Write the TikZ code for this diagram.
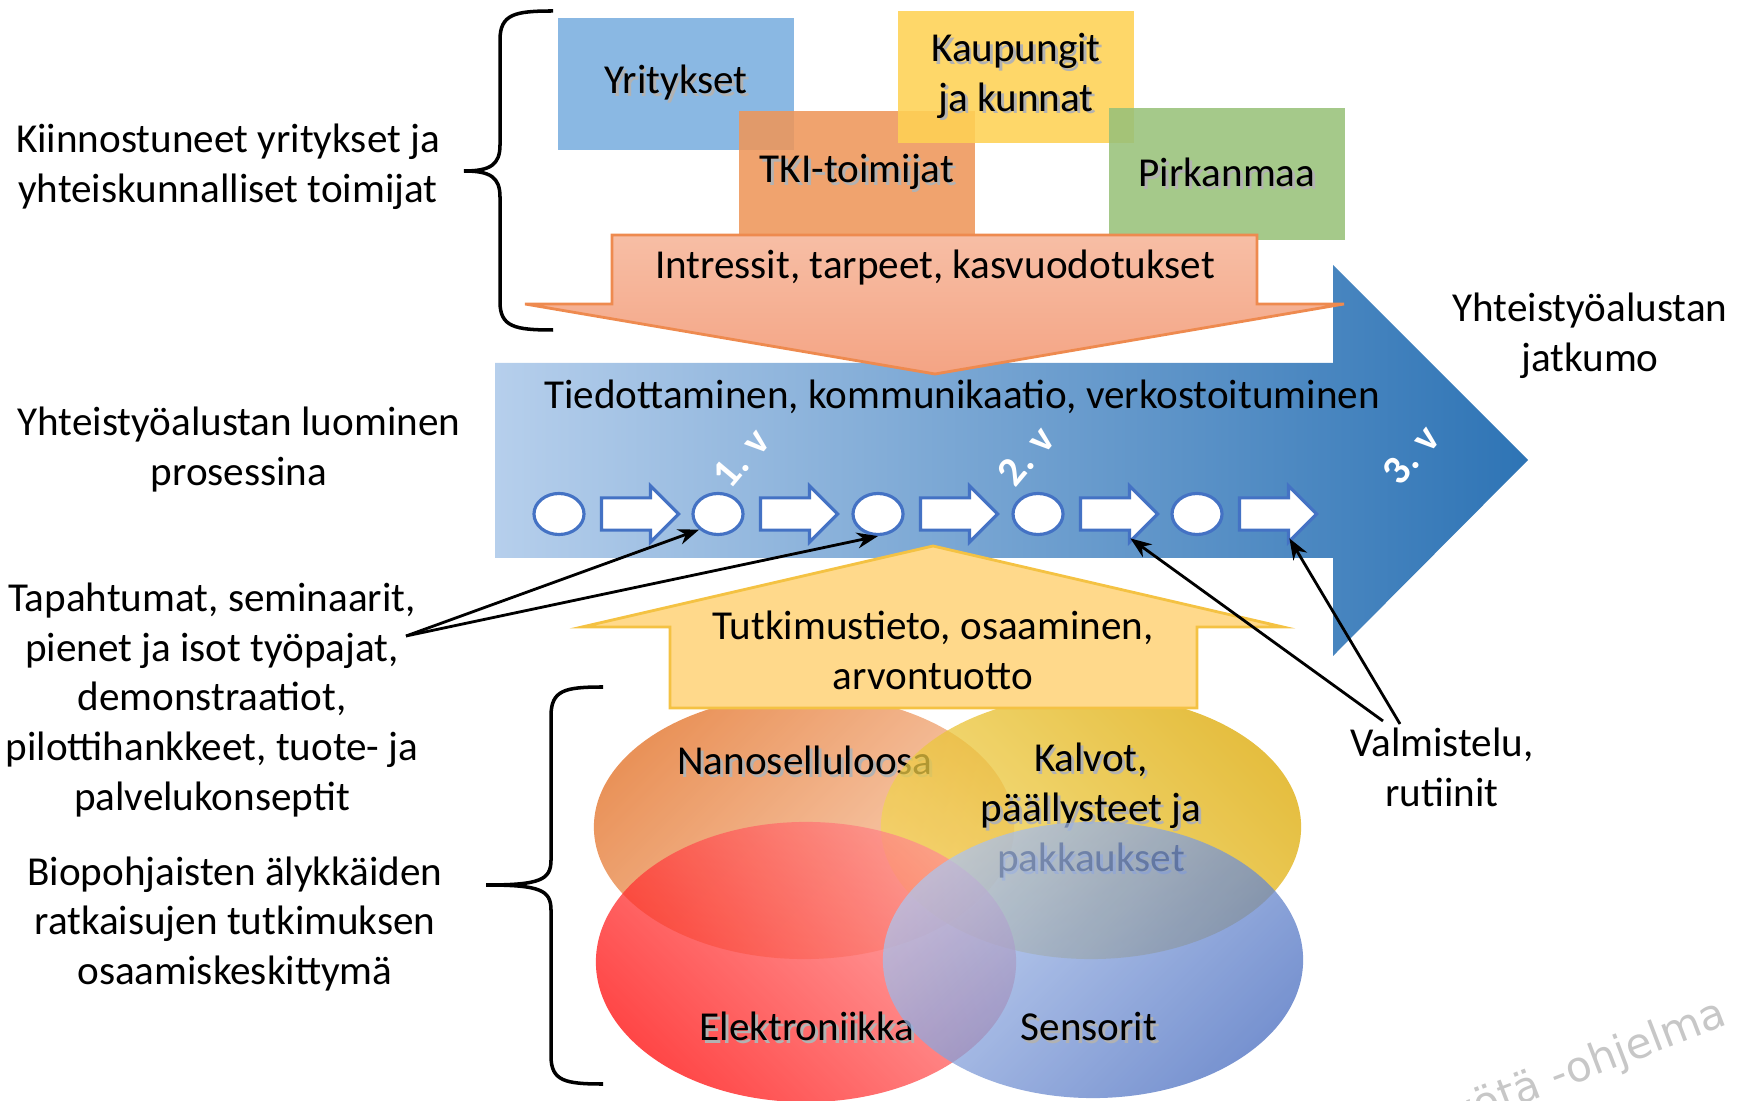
\documentclass[tikz,border=0pt]{standalone}
\usepackage{fontspec}
\setmainfont{Carlito}
\newfontfamily\wmfont{DejaVu Sans}
\usetikzlibrary{shapes.geometric,shapes.arrows,arrows.meta,positioning}

\definecolor{yritblue}{HTML}{7AAEDF}
\definecolor{tkiorange}{HTML}{EE965A}
\definecolor{kaupyellow}{HTML}{FED154}
\definecolor{pirkgreen}{HTML}{99C17A}
\definecolor{needtop}{HTML}{F7BEA5}
\definecolor{needbot}{HTML}{F4A484}
\definecolor{needline}{HTML}{EE8A4F}
\definecolor{resfill}{HTML}{FFD98B}
\definecolor{resline}{HTML}{F4C243}
\definecolor{flowlight}{HTML}{B6CFEC}
\definecolor{flowdark}{HTML}{2E74B5}
\definecolor{stepblue}{HTML}{4472C4}
\definecolor{nanodark}{HTML}{E26E22}
\definecolor{nanolight}{HTML}{F8C4A2}
\definecolor{kalvdark}{HTML}{DCA800}
\definecolor{kalvlight}{HTML}{F4D85E}
\definecolor{eledark}{HTML}{FF0A0A}
\definecolor{elelight}{HTML}{FF9090}
\definecolor{sensdark}{HTML}{4A6EC0}
\definecolor{senslight}{HTML}{AFC4EC}

% text with a soft drop shadow
\newcommand{\shtext}[1]{\leavevmode\rlap{\hspace{0.8pt}\raisebox{-0.8pt}{\textcolor{black!30}{#1}}}#1}

\tikzset{
  lbl/.style={align=center, inner sep=1pt, font=\fontsize{11.7}{14.2}\selectfont},
  actor/.style={lbl, minimum width=2.35cm, minimum height=1.32cm, fill opacity=0.88, text opacity=1},
  venn/.style={ellipse, minimum width=4.2cm, minimum height=2.64cm, fill opacity=0.75},
  stepcirc/.style={ellipse, draw=stepblue, fill=white, line width=0.9pt, minimum width=0.5cm, minimum height=0.41cm, inner sep=0pt},
  steparrow/.style={single arrow, draw=stepblue, fill=white, line width=0.9pt, minimum height=0.77cm, minimum width=0.53cm, inner sep=0pt, inner ysep=0.145cm, single arrow head extend=0.12cm},
  year/.style={lbl, text=white, font=\bfseries\fontsize{11.7}{14.2}\selectfont, rotate=50},
  note/.style={-{Stealth[length=6pt,width=4.5pt]}, line width=0.8pt},
  brace/.style={line width=1pt}
}

\begin{document}
\begin{tikzpicture}[x=0.01cm, y=-0.01cm]
\useasboundingbox (0,0) rectangle (1752,1101);

% competence cluster
\node[venn, top color=nanodark, bottom color=nanolight, shading angle=45] (nano) at (804,827) {};
\node[lbl] (nanot) at (805,762) {\shtext{Nanoselluloosa}};
\node[venn, top color=kalvdark, bottom color=kalvlight, shading angle=-45] (kalv) at (1091,827) {};
\node[lbl] (kalvt) at (1091,812) {\shtext{Kalvot,}\\\shtext{päällysteet ja}\\\shtext{pakkaukset}};
\node[venn, minimum height=2.8cm, top color=elelight, bottom color=eledark, shading angle=-45] (ele) at (806,962) {};
\node[lbl] (elet) at (807,1028) {\shtext{Elektroniikka}};
\node[venn, minimum height=2.76cm, top color=senslight, bottom color=sensdark, shading angle=45] (sens) at (1093,960) {};
\node[lbl] (senst) at (1089,1028) {\shtext{Sensorit}};

% process arrow
\shade[left color=flowlight, right color=flowdark] (495,363) -- (1333,363) -- (1333,265) -- (1528,460) -- (1333,656) -- (1333,558) -- (495,558) -- cycle;
\node[lbl] (flow) at (962,397) {Tiedottaminen, kommunikaatio, verkostoituminen};
\node[year] (y1) at (741,458) {1. v};
\node[year] (y2) at (1026,456) {2. v};
\node[year] (y3) at (1411,455) {3. v};

\foreach \i/\x in {1/559,2/718,3/878,4/1038,5/1197}{
  \node[stepcirc] (c\i) at (\x,514) {};
  \node[steparrow] (s\i) at (\x+73,514) {};
}

% actors
\node[actor, fill=yritblue] (yrit) at (676,84) {\shtext{Yritykset}};
\node[actor, fill=tkiorange, minimum height=1.24cm] (tki) at (857,173) {\shtext{TKI-toimijat}};
\node[actor, fill=kaupyellow] (kaup) at (1016,77) {\shtext{Kaupungit}\\\shtext{ja kunnat}};
\node[actor, fill=pirkgreen] (pirk) at (1227,174) {\shtext{Pirkanmaa}};

\draw[draw=needline, top color=needtop, bottom color=needbot, line width=0.8pt] (612,235) -- (1257,235) -- (1257,304) -- (1344,304) -- (935,374) -- (525,304) -- (612,304) -- cycle;
\node[lbl] (needs) at (935,268) {Intressit, tarpeet, kasvuodotukset};

\draw[draw=resline, fill=resfill, line width=0.8pt] (670,708) -- (670,627) -- (582,627) -- (933,546) -- (1283,627) -- (1197,627) -- (1197,708) -- cycle;
\node[lbl] (res) at (933,650) {Tutkimustieto, osaaminen,\\arvontuotto};

% side texts
\node[lbl] (actors) at (228,167) {Kiinnostuneet yritykset ja\\yhteiskunnalliset toimijat};
\node[lbl] (process) at (239,450) {Yhteistyöalustan luominen\\prosessina};
\node[lbl] (cont) at (1590,336) {Yhteistyöalustan\\jatkumo};
\node[lbl] (events) at (212,700) {Tapahtumat, seminaarit,\\pienet ja isot työpajat,\\demonstraatiot,\\pilottihankkeet, tuote- ja\\palvelukonseptit};
\node[lbl] (hub) at (235,924) {Biopohjaisten älykkäiden\\ratkaisujen tutkimuksen\\osaamiskeskittymä};
\node[lbl] (prep) at (1442,767) {Valmistelu,\\rutiinit};

% braces
\draw[brace] (553,11) .. controls (515,11) and (500,14) .. (500,40) -- (500,145) .. controls (500,165) and (490,171) .. (464,171) .. controls (490,171) and (500,177) .. (500,197) -- (500,302) .. controls (500,327) and (515,330) .. (553,330);
\draw[brace] (603,687) .. controls (565,687) and (551,690) .. (551,716) -- (551,860) .. controls (551,880) and (540,885) .. (486,885) .. controls (540,885) and (551,890) .. (551,910) -- (551,1056) .. controls (551,1081) and (565,1084) .. (603,1084);

% pointers
\coordinate (evfrom) at (406,636);
\draw[note] (evfrom) -- (c2.south west);
\draw[note] (evfrom) -- (c3.south);
\coordinate (prepfrom1) at (1383,721);
\coordinate (prepfrom2) at (1400,724);
\draw[note] (prepfrom1) -- ([xshift=-0.05cm]s4.south east);
\draw[note] (prepfrom2) -- ([xshift=-0.05cm]s5.south east);

\node[font=\wmfont\fontsize{12}{13}\selectfont, text=black!22, rotate=21, anchor=south east] (wm) at (1748,1040) {työtä -ohjelma};
\end{tikzpicture}
\end{document}
